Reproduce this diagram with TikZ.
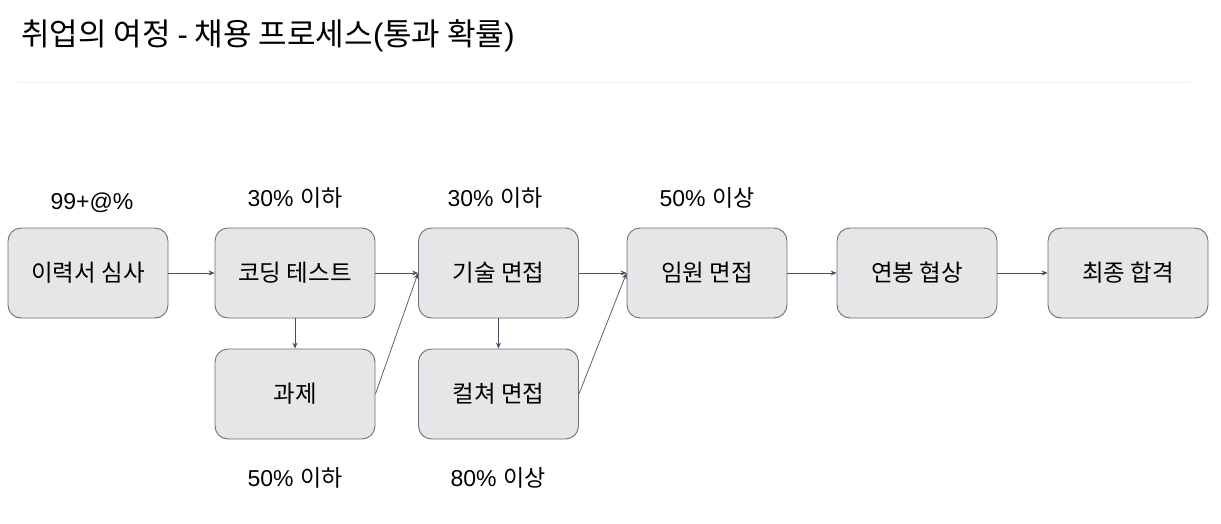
\documentclass[tikz,border=0pt]{standalone}
\usepackage{fontspec}
\setmainfont{Noto Sans CJK KR}
\newfontfamily\lat{Liberation Sans}
\usetikzlibrary{arrows.meta}
\definecolor{boxfill}{HTML}{E6E6E8}
\definecolor{boxline}{HTML}{6B6E76}
\definecolor{arr}{HTML}{4B5060}
\definecolor{rule}{HTML}{EEEEF0}
\tikzset{
  stage/.style={draw=boxline, fill=boxfill, line width=0.9pt, rounded corners=13pt,
    minimum width=160pt, minimum height=90pt, inner sep=0pt, font=\fontsize{23.5}{28}\selectfont, text=black},
  prob/.style={font=\fontsize{23}{27}\selectfont, text=black, inner sep=0pt},
  link/.style={draw=arr, line width=0.7pt, -{Stealth[length=6pt,width=5pt]}}
}
\begin{document}
\begin{tikzpicture}[x=1pt,y=-1pt]
\useasboundingbox (0,0) rectangle (1221,523);
\node[anchor=west, font=\fontsize{31}{36}\selectfont, inner sep=0pt] (title) at (21,36) {취업의 여정 {\lat -} 채용 프로세스{\lat (}통과 확률{\lat )}};
\draw[rule, line width=1pt] (18,82) -- (1190,82);

\node[stage] (s1) at (88,273) {이력서 심사};
\node[stage] (s2) at (295,273) {코딩 테스트};
\node[stage] (s3) at (498.5,273) {기술 면접};
\node[stage] (s4) at (707,273) {임원 면접};
\node[stage] (s5) at (917,273) {연봉 협상};
\node[stage] (s6) at (1128,273) {최종 합격};
\node[stage] (t1) at (295,394) {과제};
\node[stage] (t2) at (498.5,394) {컬쳐 면접};

\node[prob] (p1) at (92,203) {\lat 99+@\%};
\node[prob] (p2) at (295,198) {{\lat 30\% }이하};
\node[prob] (p3) at (495,198) {{\lat 30\% }이하};
\node[prob] (p4) at (707,198) {{\lat 50\% }이상};
\node[prob] (p5) at (295,478) {{\lat 50\% }이하};
\node[prob] (p6) at (498,478) {{\lat 80\% }이상};

\draw[link] (s1.east) -- (s2.west);
\draw[link] (s2.east) -- (s3.west);
\draw[link] (s3.east) -- (s4.west);
\draw[link] (s4.east) -- (s5.west);
\draw[link] (s5.east) -- (s6.west);
\draw[link] (s2.south) -- (t1.north);
\draw[link] (s3.south) -- (t2.north);
\draw[link] (t1.east) -- (s3.west);
\draw[link] (t2.east) -- (s4.west);
\end{tikzpicture}
\end{document}
